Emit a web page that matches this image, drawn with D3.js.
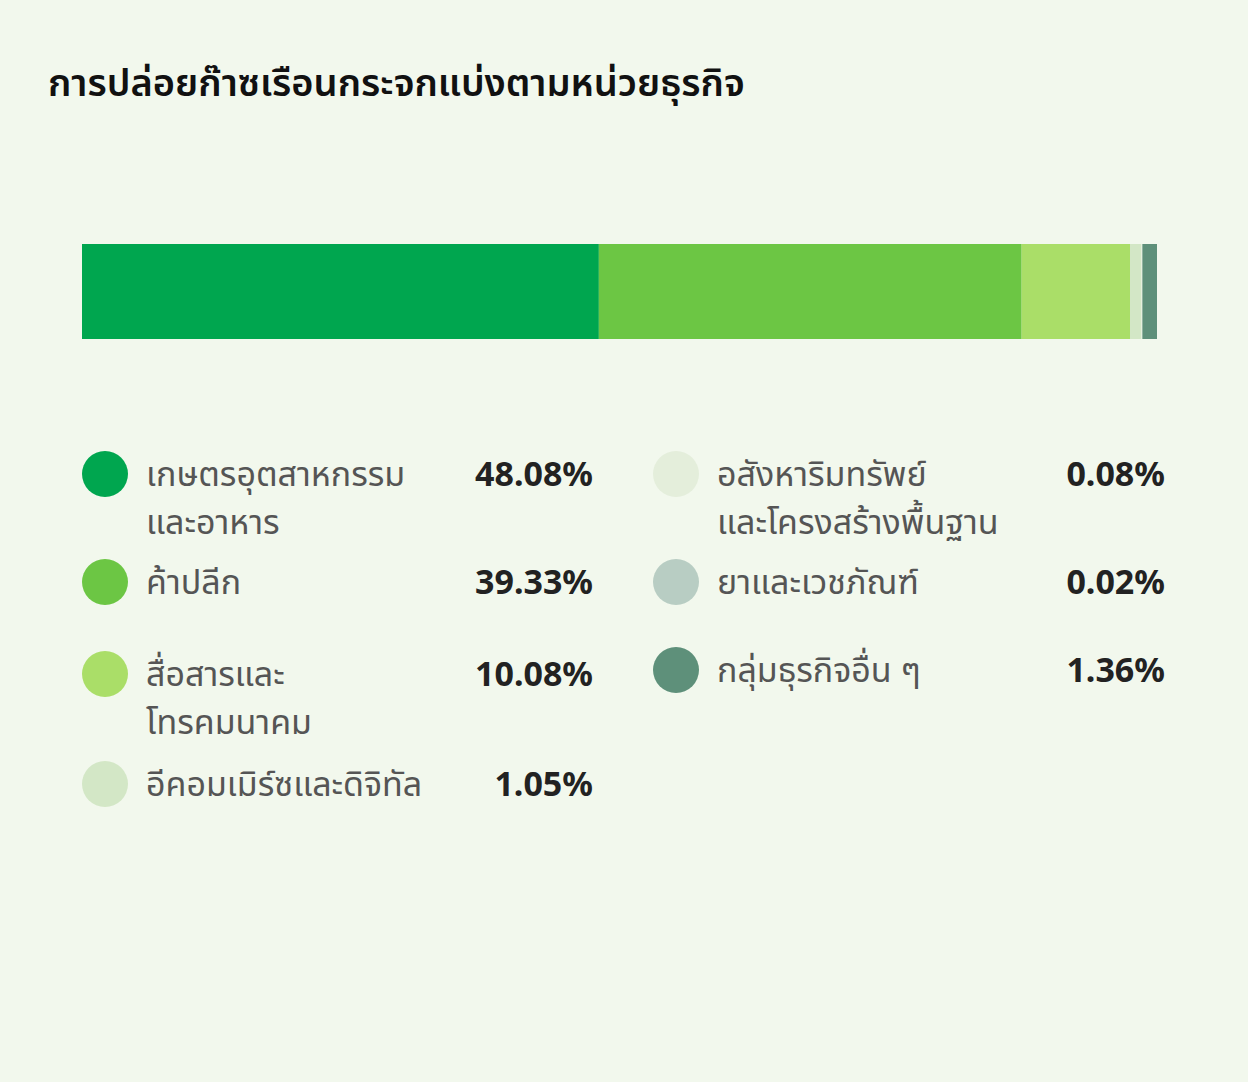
<!DOCTYPE html><html><head><meta charset="utf-8">
<script src="https://cdn.jsdelivr.net/npm/d3@7"></script>
<style>body{margin:0;background:#f2f8ed;}svg{display:block}</style></head><body>
<script>
const categories=["เกษตรอุตสาหกรรม\nและอาหาร","ค้าปลีก","สื่อสารและ\nโทรคมนาคม","อีคอมเมิร์ซและดิจิทัล","อสังหาริมทรัพย์\nและโครงสร้างพื้นฐาน","ยาและเวชภัณฑ์","กลุ่มธุรกิจอื่น ๆ"];
const values=[48.08,39.33,10.08,1.05,0.08,0.02,1.36];
const labels=["48.08%","39.33%","10.08%","1.05%","0.08%","0.02%","1.36%"];
const colors=["#00a64f","#6cc644","#aade68","#d3e7c6","#e4eedb","#b8cdc3","#5e907a"];
const W=1248,H=1082,font="'Noto Sans','Noto Sans Thai',Tahoma,sans-serif";
const svg=d3.select("body").append("svg").attr("width",W).attr("height",H);
svg.append("rect").attr("width",W).attr("height",H).attr("fill","#f2f8ed");
svg.append("text").attr("x",48).attr("y",96).attr("font-family",font).attr("font-size",38).attr("font-weight",600).attr("fill","#111").text("การปล่อยก๊าซเรือนกระจกแบ่งตามหน่วยธุรกิจ");
const total=d3.sum(values);
const x=d3.scaleLinear().domain([0,total]).range([82,1157]);
let cum=0;const segs=values.map(v=>{const s={a:cum,b:cum+v};cum+=v;return s;});
svg.selectAll(".seg").data(segs).join("rect").attr("x",d=>x(d.a)).attr("width",d=>x(d.b)-x(d.a)).attr("y",244).attr("height",95).attr("fill",(d,i)=>colors[i]);
const pos=[[0,474],[0,582],[0,674],[0,784],[1,474],[1,582],[1,670]];
const cols=[{cx:105,tx:146,vx:593},{cx:676,tx:717,vx:1165}];
pos.forEach((p,i)=>{const c=cols[p[0]],y=p[1];
 svg.append("circle").attr("cx",c.cx).attr("cy",y).attr("r",23).attr("fill",colors[i]);
 const t=svg.append("text").attr("x",c.tx).attr("y",y+12).attr("font-family",font).attr("font-size",34).attr("fill","#555");
 categories[i].split("\n").forEach((l,j)=>t.append("tspan").attr("x",c.tx).attr("dy",j?48:0).text(l));
 svg.append("text").attr("x",c.vx).attr("y",y+12).attr("text-anchor","end").attr("font-family",font).attr("font-size",34).attr("font-weight",700).attr("fill","#222").text(labels[i]);
});
</script></body></html>
